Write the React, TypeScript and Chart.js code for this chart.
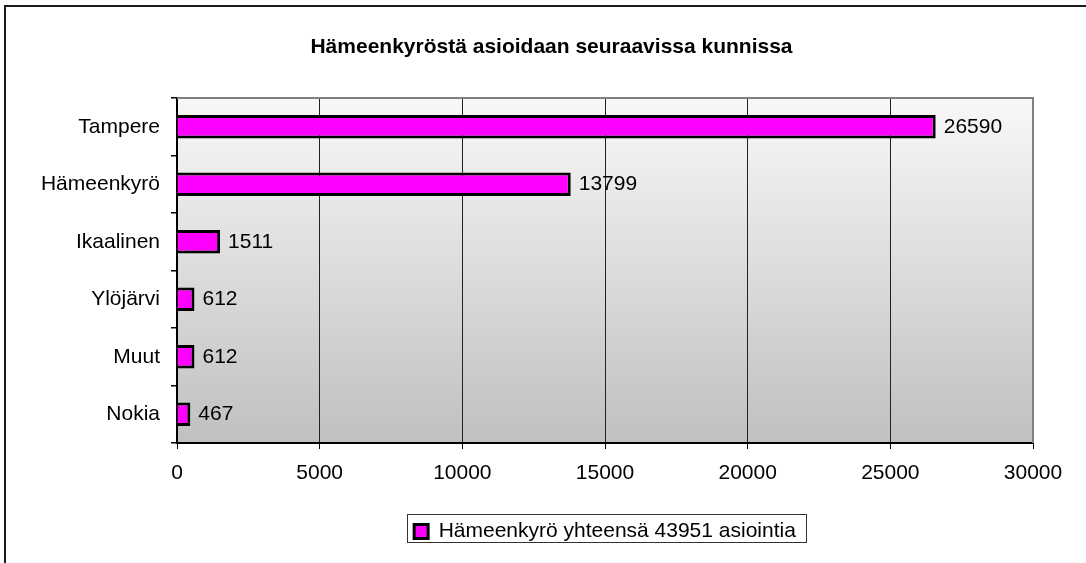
import React, { useEffect, useRef } from "react";
import { Chart, registerables } from "chart.js";

Chart.register(...registerables);

const chartTitle = "Hämeenkyröstä asioidaan seuraavissa kunnissa";
const seriesLabel = "Hämeenkyrö yhteensä 43951 asiointia";
const categories = ["Tampere", "Hämeenkyrö", "Ikaalinen", "Ylöjärvi", "Muut", "Nokia"];
const values = [26590, 13799, 1511, 612, 612, 467];
const xMin = 0;
const xMax = 30000;
const xStep = 5000;

const FONT = '"Liberation Sans", Arial, Helvetica, sans-serif';

const decorPlugin = {
  id: "decor",
  beforeDraw(chart: any) {
    const { ctx, chartArea: a, width, height } = chart;
    ctx.save();
    ctx.fillStyle = "#ffffff";
    ctx.fillRect(0, 0, width, height);
    const g = ctx.createLinearGradient(0, a.top, 0, a.bottom);
    g.addColorStop(0, "#f8f8f8");
    g.addColorStop(1, "#c0c0c0");
    ctx.fillStyle = g;
    ctx.fillRect(a.left, a.top, a.right - a.left, a.bottom - a.top);
    // outer chart border (top + left visible)
    ctx.strokeStyle = "#1a1a1a";
    ctx.lineWidth = 2;
    ctx.beginPath();
    ctx.moveTo(5, height + 10);
    ctx.lineTo(5, 6);
    ctx.lineTo(width + 10, 6);
    ctx.stroke();
    // title
    ctx.fillStyle = "#000";
    ctx.font = `bold 21px ${FONT}`;
    ctx.textAlign = "center";
    ctx.textBaseline = "middle";
    ctx.fillText(chartTitle, 551.5, 47);
    ctx.restore();
  },
  afterDatasetsDraw(chart: any) {
    const { ctx } = chart;
    const meta = chart.getDatasetMeta(0);
    ctx.save();
    ctx.fillStyle = "#000";
    ctx.font = `21px ${FONT}`;
    ctx.textAlign = "left";
    ctx.textBaseline = "middle";
    meta.data.forEach((bar: any, i: number) => {
      const v = chart.data.datasets[0].data[i];
      ctx.fillText(String(v), bar.x + 8, bar.y);
    });
    ctx.restore();
  },
  afterDraw(chart: any) {
    const { ctx, chartArea: a } = chart;
    ctx.save();
    ctx.strokeStyle = "#808080";
    ctx.lineWidth = 2;
    ctx.beginPath();
    ctx.moveTo(a.left, a.top);
    ctx.lineTo(a.right, a.top);
    ctx.lineTo(a.right, a.bottom);
    ctx.stroke();
    const hb = chart.legend && chart.legend.legendHitBoxes && chart.legend.legendHitBoxes[0];
    if (hb) {
      const cy = hb.top + hb.height / 2;
      ctx.strokeStyle = "#333";
      ctx.lineWidth = 1;
      const l = Math.round(hb.left - 7) + 0.5;
      const r = Math.round(hb.left + hb.width + 10) + 0.5;
      const t = Math.round(cy - 18) + 0.5;
      const b = Math.round(cy + 10) + 0.5;
      ctx.strokeRect(l, t, r - l, b - t);
    }
    ctx.restore();
  },
};

export default function App() {
  const canvasRef = useRef<HTMLCanvasElement | null>(null);

  useEffect(() => {
    if (!canvasRef.current) return;
    Chart.defaults.font.family = FONT;
    Chart.defaults.color = "#000";
    const chart = new Chart(canvasRef.current, {
      type: "bar",
      data: {
        labels: categories,
        datasets: [
          {
            label: seriesLabel,
            data: values,
            backgroundColor: "#ff00ff",
            borderColor: "#000000",
            borderWidth: 3,
            barPercentage: 0.41,
            categoryPercentage: 1,
          },
        ],
      },
      options: {
        indexAxis: "y",
        responsive: false,
        animation: false,
        devicePixelRatio: 1,
        layout: { padding: { left: 0, right: 53, top: 98, bottom: 11 } },
        plugins: {
          title: { display: false },
          legend: {
            display: true,
            position: "bottom",
            fullSize: false,
            labels: {
              boxWidth: 14,
              boxHeight: 14,
              padding: 10,
              color: "#000",
              font: { size: 21, family: FONT },
            },
          },
          tooltip: { enabled: false },
        },
        scales: {
          x: {
            type: "linear",
            min: xMin,
            max: xMax,
            ticks: {
              stepSize: xStep,
              padding: 12,
              color: "#000",
              font: { size: 21, family: FONT },
              callback: (v: any) => String(v),
            },
            grid: {
              color: (c: any) => (c.tick && c.tick.value === xMax ? "rgba(0,0,0,0)" : "#222"),
              lineWidth: 1,
              drawTicks: true,
              tickLength: 6,
              tickColor: "#000",
            },
            border: { display: true, color: "#000", width: 2 },
            afterFit: (s: any) => {
              s.height = 68;
            },
          },
          y: {
            type: "category",
            offset: true,
            ticks: {
              padding: 11,
              color: "#000",
              font: { size: 21, family: FONT },
              autoSkip: false,
            },
            grid: {
              offset: true,
              drawOnChartArea: false,
              drawTicks: true,
              tickLength: 6,
              tickColor: "#000",
              lineWidth: 1.5,
            },
            border: { display: true, color: "#000", width: 2 },
            afterFit: (s: any) => {
              s.width = 177;
            },
          },
        },
      },
      plugins: [decorPlugin],
    } as any);
    return () => chart.destroy();
  }, []);

  return (
    <div style={{ position: "absolute", left: 0, top: 0, width: 1086, height: 563 }}>
      <canvas ref={canvasRef} width={1086} height={563} style={{ display: "block" }} />
    </div>
  );
}
